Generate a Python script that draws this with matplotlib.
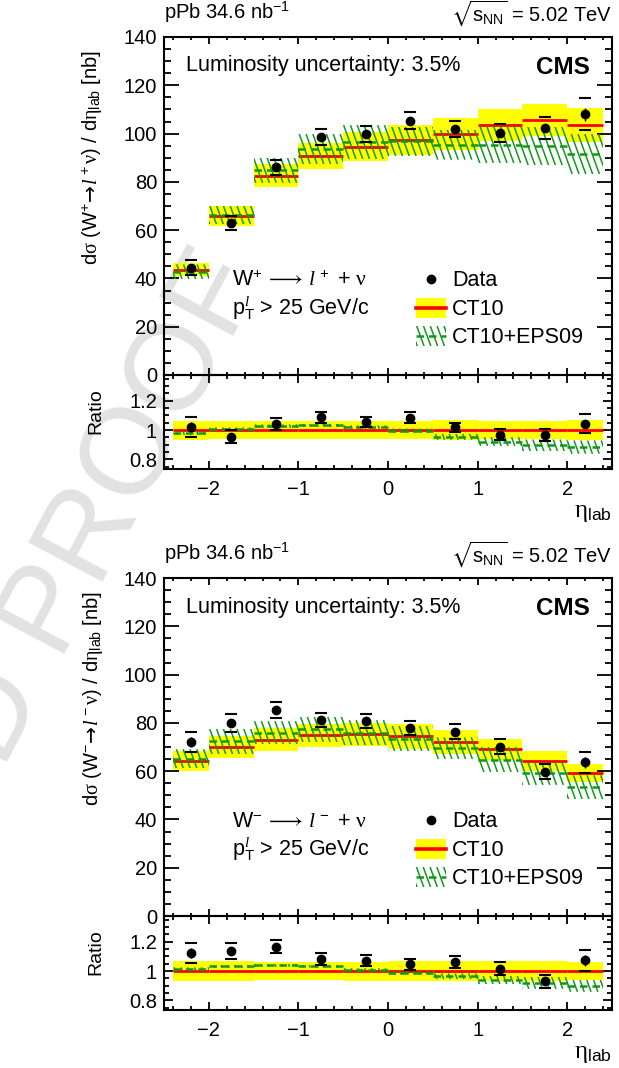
import numpy as np
import matplotlib
matplotlib.use('Agg')
import matplotlib.pyplot as plt
from matplotlib.collections import LineCollection
from matplotlib.patches import Rectangle
from matplotlib.lines import Line2D
from matplotlib.transforms import IdentityTransform
from matplotlib.ticker import MultipleLocator, FormatStrFormatter

plt.rcParams['font.family'] = ['Liberation Sans', 'DejaVu Sans']
plt.rcParams['mathtext.fontset'] = 'custom'
plt.rcParams['mathtext.rm'] = 'Liberation Sans'
plt.rcParams['mathtext.it'] = 'Liberation Serif:italic'
plt.rcParams['mathtext.sf'] = 'Liberation Serif'
plt.rcParams['mathtext.tt'] = 'DejaVu Sans'
plt.rcParams['mathtext.bf'] = 'Liberation Sans:bold'
plt.rcParams['mathtext.fallback'] = 'stixsans'

# ---- eta binning ----
bin_edges = [-2.4, -2.0, -1.5, -1.0, -0.5, 0.0, 0.5, 1.0, 1.5, 2.0, 2.4]
eta_centers = [-2.2, -1.75, -1.25, -0.75, -0.25, 0.25, 0.75, 1.25, 1.75, 2.2]

# ---- W+ -> l+ nu  [nb] ----
wp_data = [44.5, 62.9, 86.0, 98.6, 99.7, 105.4, 101.8, 100.3, 102.3, 108.0]
wp_stat = [1.5, 1.2, 1.2, 1.2, 1.2, 1.2, 1.2, 1.4, 1.8, 2.6]
wp_tot = [3.0, 2.8, 3.2, 3.3, 3.3, 3.5, 3.3, 3.7, 4.5, 6.7]
wp_ct10 = [43.6, 65.8, 82.6, 90.7, 94.6, 97.2, 100.0, 103.5, 105.8, 103.5]
wp_ct10_err = [2.8, 4.0, 4.9, 5.5, 6.0, 6.2, 6.6, 6.6, 6.6, 6.9]
wp_eps = [42.7, 66.2, 84.8, 93.6, 96.5, 96.8, 95.4, 95.4, 94.8, 91.5]
wp_eps_err = [3.1, 3.8, 5.2, 6.2, 7.0, 6.1, 6.2, 7.6, 8.0, 8.3]
wp_eps_nuc = [0.015, 0.012, 0.012, 0.012, 0.012, 0.015, 0.02, 0.03, 0.04, 0.045]

# ---- W- -> l- nu  [nb] ----
wm_data = [72.0, 79.9, 85.3, 81.0, 80.6, 77.8, 76.4, 70.1, 59.8, 63.7]
wm_stat = [2.0, 1.6, 1.4, 1.2, 1.2, 1.2, 1.2, 1.4, 1.6, 2.2]
wm_tot = [4.2, 3.8, 3.4, 2.9, 2.9, 2.8, 3.0, 3.1, 3.0, 4.3]
wm_ct10 = [64.1, 70.1, 73.1, 74.8, 75.2, 74.4, 72.1, 69.0, 64.3, 59.3]
wm_ct10_err = [4.2, 4.6, 4.6, 4.7, 4.9, 5.2, 4.8, 4.5, 4.2, 3.7]
wm_eps = [65.1, 72.3, 75.9, 77.3, 75.9, 73.5, 69.5, 64.8, 59.1, 53.3]
wm_eps_err = [4.0, 5.2, 4.8, 5.2, 5.2, 5.2, 4.5, 5.2, 4.8, 5.0]
wm_eps_nuc = [0.01, 0.01, 0.01, 0.01, 0.01, 0.012, 0.02, 0.03, 0.04, 0.04]

YELLOW = '#ffff00'
RED = '#ff0000'
GREEN = '#12991a'

W, H = 619, 1068
fig = plt.figure(figsize=(W / 100, H / 100), dpi=100)


def fpx(x, y):
    # pixel position (from top-left) -> figure fraction
    return x / W, 1 - y / H


def add_axes_px(left, top, right, bottom):
    return fig.add_axes([left / W, 1 - bottom / H, (right - left) / W, (bottom - top) / H],
                        facecolor='none')


def hatch_box(ax, x0, x1, y0, y1, trans=None, spacing=6.8, angle=70.0, lw=1.1, z=3.2):
    # steep "\\\" hatch, drawn in pixel space and clipped to the box
    if trans is None:
        trans = ax.transData
    (X0, Y0), (X1, Y1) = trans.transform([(x0, y0), (x1, y1)])
    cot = 1.0 / np.tan(np.radians(angle))
    kmin = int(np.floor((X0 + Y0 * cot) / spacing)) - 1
    kmax = int(np.ceil((X1 + Y1 * cot) / spacing)) + 1
    segs = [[(k * spacing - Y0 * cot, Y0), (k * spacing - Y1 * cot, Y1)]
            for k in range(kmin, kmax + 1)]
    lc = LineCollection(segs, colors=GREEN, linewidths=lw,
                        transform=IdentityTransform(), zorder=z)
    ax.add_collection(lc, autolim=False)
    lc.set_clip_path(Rectangle((X0, Y0), X1 - X0, Y1 - Y0, transform=IdentityTransform()))


def style_axes(ax, xlen, ylen):
    ax.set_xlim(-2.5, 2.5)
    ax.xaxis.set_major_locator(MultipleLocator(1))
    ax.xaxis.set_minor_locator(MultipleLocator(0.2))
    ax.tick_params(which='both', direction='in', top=True, right=True,
                   width=1.3, labelsize=14.5, pad=5)
    ax.tick_params(axis='x', which='major', length=xlen)
    ax.tick_params(axis='x', which='minor', length=xlen / 2)
    ax.tick_params(axis='y', which='major', length=ylen)
    ax.tick_params(axis='y', which='minor', length=ylen / 2)
    for s in ax.spines.values():
        s.set_linewidth(1.5)


def draw_bands(ax, ct10, ct10_err, eps, eps_err):
    left = np.array(bin_edges[:-1])
    right = np.array(bin_edges[1:])
    ct10 = np.array(ct10)
    ct10_err = np.array(ct10_err)
    ax.bar(left, 2 * ct10_err, width=right - left, bottom=ct10 - ct10_err,
           align='edge', color=YELLOW, linewidth=0, zorder=1)
    for i in range(len(left)):
        hatch_box(ax, left[i], right[i], eps[i] - eps_err[i], eps[i] + eps_err[i])
    ax.hlines(ct10, left, right, color=RED, lw=2.0, zorder=3)
    ax.hlines(eps, left, right, color=GREEN, lw=1.8, linestyles=(0, (3, 2)), zorder=3.5)


def draw_points(ax, vals, stat, tot):
    vals = np.array(vals)
    ax.errorbar(eta_centers, vals, yerr=stat, fmt='o', color='k', ms=6,
                elinewidth=1.0, capsize=0, zorder=5)
    ax.plot(eta_centers, vals + np.array(tot), ls='none', marker='_', ms=8,
            mew=1.5, color='k', zorder=5)
    ax.plot(eta_centers, vals - np.array(tot), ls='none', marker='_', ms=8,
            mew=1.5, color='k', zorder=5)


def panel(top, data, stat, tot, ct10, ct10_err, eps, eps_err, eps_nuc, sign):
    ax = add_axes_px(164, top, 612, top + 338)
    rax = add_axes_px(164, top + 338, 612, top + 432)

    ax.set_ylim(0, 140)
    ax.yaxis.set_major_locator(MultipleLocator(20))
    ax.yaxis.set_minor_locator(MultipleLocator(5))
    style_axes(ax, 5.0, 10.5)
    ax.tick_params(labelbottom=False)

    rax.set_ylim(0.735, 1.375)
    rax.yaxis.set_major_locator(MultipleLocator(0.2))
    rax.yaxis.set_minor_locator(MultipleLocator(0.05))
    rax.yaxis.set_major_formatter(FormatStrFormatter('%g'))
    style_axes(rax, 5.5, 6.5)
    rax.tick_params(axis='x', pad=8)

    draw_bands(ax, ct10, ct10_err, eps, eps_err)
    draw_points(ax, data, stat, tot)

    c = np.array(ct10)
    draw_bands(rax, np.ones(10), np.array(ct10_err) / c, np.array(eps) / c, eps_nuc)
    draw_points(rax, np.array(data) / c, np.array(stat) / c, np.array(tot) / c)

    # texts above the frame and inside
    fig.text(*fpx(164, top - 18), r'pPb 34.6 nb$^{-1}$', fontsize=14.5, va='baseline')
    fig.text(*fpx(612, top - 16), r'$\sqrt{\mathrm{s}_{\mathrm{NN}}}$ = 5.02 TeV',
             fontsize=14.5, va='baseline', ha='right')
    fig.text(*fpx(186, top + 34.5), 'Luminosity uncertainty: 3.5%', fontsize=15.5,
             va='baseline')
    fig.text(*fpx(590, top + 37), 'CMS', fontsize=17.5, fontweight='bold',
             va='baseline', ha='right')

    fig.text(*fpx(232, top + 249),
             r'W$^{%s}$ $\!\longrightarrow\!$ $\mathit{l}^{\,%s}$ + $\mathsf{\nu}$'
             % (sign, sign), fontsize=15.5, va='baseline')
    fig.text(*fpx(232, top + 278), r'p$_{\mathrm{T}}^{\mathit{l}}$ > 25 GeV/c',
             fontsize=15.5, va='baseline')

    # legend
    fig.add_artist(Line2D([431 / W], [1 - (top + 242) / H], marker='o', ms=6, color='k'))
    fig.text(*fpx(452, top + 249), 'Data', fontsize=15.5, va='baseline')
    x0, y0 = fpx(416, top + 281)
    x1, y1 = fpx(446, top + 261)
    fig.add_artist(Rectangle((x0, y0), x1 - x0, y1 - y0, transform=fig.transFigure,
                             facecolor=YELLOW, edgecolor='none'))
    fig.add_artist(Line2D([x0, x1], [(y0 + y1) / 2] * 2, color=RED, lw=2.6))
    fig.text(*fpx(452, top + 278), 'CT10', fontsize=15.5, va='baseline')
    x0, y0 = fpx(416, top + 309)
    x1, y1 = fpx(446, top + 289)
    hatch_box(ax, x0, x1, y0, y1, trans=fig.transFigure)
    fig.add_artist(Line2D([x0, x1], [(y0 + y1) / 2] * 2, color=GREEN, lw=1.8,
                          ls=(0, (3, 2))))
    fig.text(*fpx(452, top + 306), 'CT10+EPS09', fontsize=15.5, va='baseline')

    # axis titles
    fig.text(*fpx(93, top + 120),
             r'd$\mathsf{\sigma}$ (W$^{%s}\!\mathtt{\rightarrow}\!\mathit{l}^{\,%s}\mathsf{\nu}$) / '
             r'd$\mathsf{\eta}_{\mathrm{lab}}$ [nb]' % (sign, sign),
             fontsize=14.5, rotation=90, ha='center', va='center')
    fig.text(*fpx(96, top + 374), 'Ratio', fontsize=14, rotation=90,
             ha='center', va='center')
    fig.text(*fpx(612, top + 480), r'$\mathsf{\eta}_{\mathrm{lab}}$', fontsize=18,
             ha='right', va='baseline')
    return ax, rax


panel(37, wp_data, wp_stat, wp_tot, wp_ct10, wp_ct10_err, wp_eps, wp_eps_err, wp_eps_nuc, '+')
panel(578, wm_data, wm_stat, wm_tot, wm_ct10, wm_ct10_err, wm_eps, wm_eps_err, wm_eps_nuc, '-')

# proof watermark behind everything
fig.text(*fpx(264, 278), 'UNCORRECTED PROOF', fontsize=88, color='#e2e2e2',
         rotation=62, rotation_mode='anchor', ha='right', va='baseline', zorder=-5)

fig.savefig('out.png', dpi=100)
